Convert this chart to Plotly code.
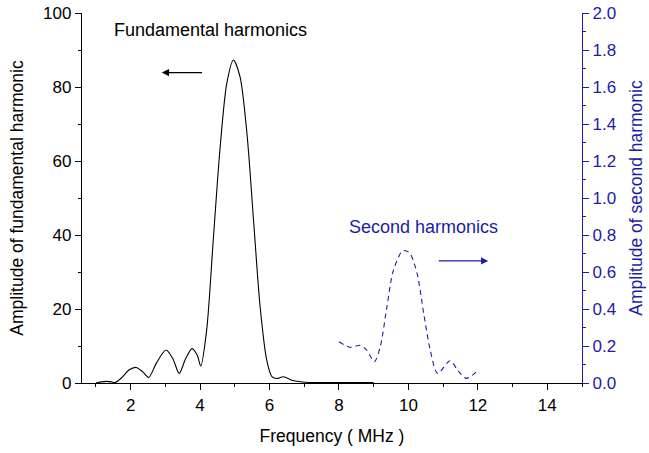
import plotly.graph_objects as go

# Fundamental harmonic (left axis)
freq_fund = [1.0, 1.15, 1.31, 1.45, 1.55, 1.75, 1.95, 2.16, 2.35, 2.52, 2.75, 3.02, 3.22, 3.40,
             3.58, 3.77, 3.92, 4.02, 4.19, 4.38, 4.58, 4.77, 4.96, 5.15, 5.35, 5.54, 5.73, 5.92,
             6.07, 6.21, 6.40, 6.67, 7.03, 7.5, 8.0, 8.5, 9.0]
amp_fund = [0.0, 0.3, 0.45, 0.3, 0.1, 1.5, 3.5, 4.2, 3.0, 1.5, 5.5, 8.9, 6.5, 2.6,
            6.5, 9.3, 7.5, 4.6, 14.3, 38.6, 63.9, 81.0, 87.3, 82.8, 67.5, 44.0, 20.6, 6.2,
            1.7, 1.2, 1.7, 0.7, 0.2, 0.15, 0.15, 0.1, 0.1]

# Second harmonic (right axis)
freq_second = [8.0, 8.32, 8.61, 8.8, 9.02, 9.19, 9.38, 9.57, 9.84, 10.03, 10.25, 10.44, 10.63,
               10.84, 11.2, 11.45, 11.67, 12.0]
amp_second = [0.223, 0.193, 0.204, 0.178, 0.115, 0.196, 0.41, 0.61, 0.715, 0.704, 0.593, 0.377,
              0.178, 0.052, 0.12, 0.061, 0.025, 0.067]

x_ticks = [2, 4, 6, 8, 10, 12, 14]
y_left_ticks = [0, 20, 40, 60, 80, 100]
y_right_ticks = [0.0, 0.2, 0.4, 0.6, 0.8, 1.0, 1.2, 1.4, 1.6, 1.8, 2.0]

BLUE = "#1C1CA8"
FONT = "Liberation Sans, Arial, sans-serif"

fig = go.Figure()
fig.add_trace(go.Scatter(x=freq_fund, y=amp_fund, mode="lines",
                         line=dict(color="black", width=1.1, shape="spline", smoothing=0.8),
                         showlegend=False))
fig.add_trace(go.Scatter(x=freq_second, y=amp_second, mode="lines", yaxis="y2",
                         line=dict(color=BLUE, width=1.1, dash="5px,4px", shape="spline", smoothing=0.8),
                         showlegend=False))

fig.update_layout(
    width=649, height=453,
    margin=dict(l=82, r=67, t=13, b=70),
    plot_bgcolor="white", paper_bgcolor="white",
    font=dict(family=FONT, size=17, color="black"),
    xaxis=dict(range=[0.6, 15], tickvals=x_ticks, showgrid=False, zeroline=False, automargin=False,
               showline=True, linecolor="black", linewidth=1.3,
               ticks="outside", ticklen=6, tickwidth=1.2, tickcolor="black",
               minor=dict(dtick=1, tick0=1, ticks="outside", ticklen=3, tickcolor="black", showgrid=False),
               title=dict(text="Frequency ( MHz )", font=dict(size=17.5), standoff=16),
               tickfont=dict(size=17)),
    yaxis=dict(range=[0, 100], tickvals=y_left_ticks, showgrid=False, zeroline=False, automargin=False,
               showline=True, linecolor="black", linewidth=1.3,
               ticks="outside", ticklen=6, tickwidth=1.2, tickcolor="black",
               minor=dict(dtick=10, tick0=0, ticks="outside", ticklen=3, tickcolor="black", showgrid=False),
               title=dict(text="Amplitude of fundamental harmonic", font=dict(size=17.5), standoff=14),
               tickfont=dict(size=17)),
    yaxis2=dict(range=[0, 2], tickvals=y_right_ticks, tickformat=".1f", overlaying="y", side="right",
                showgrid=False, zeroline=False, showline=True, linecolor=BLUE, linewidth=1.3, automargin=False,
                ticks="outside", ticklen=6, tickwidth=1.2, tickcolor=BLUE,
                minor=dict(dtick=0.1, tick0=0, ticks="outside", ticklen=3, tickcolor=BLUE, showgrid=False),
                tickfont=dict(size=17, color=BLUE),
                title=dict(text="Amplitude of second harmonic", font=dict(size=17.5, color=BLUE), standoff=14)),
    annotations=[
        dict(x=4.29, y=95.4, xref="x", yref="y", text="Fundamental harmonics", showarrow=False,
             font=dict(size=18, color="black")),
        dict(x=2.90, y=83.9, xref="x", yref="y", ax=4.10, ay=83.9, axref="x", ayref="y",
             text="", showarrow=True, arrowhead=2, arrowsize=1.2, arrowwidth=1.2, arrowcolor="black"),
        dict(x=10.43, y=42.2, xref="x", yref="y", text="Second harmonics", showarrow=False,
             font=dict(size=18, color=BLUE)),
        dict(x=12.30, y=0.66, xref="x", yref="y2", ax=10.83, ay=0.66, axref="x", ayref="y2",
             text="", showarrow=True, arrowhead=2, arrowsize=1.2, arrowwidth=1.2, arrowcolor=BLUE),
    ],
)

fig.write_html("out.html")
